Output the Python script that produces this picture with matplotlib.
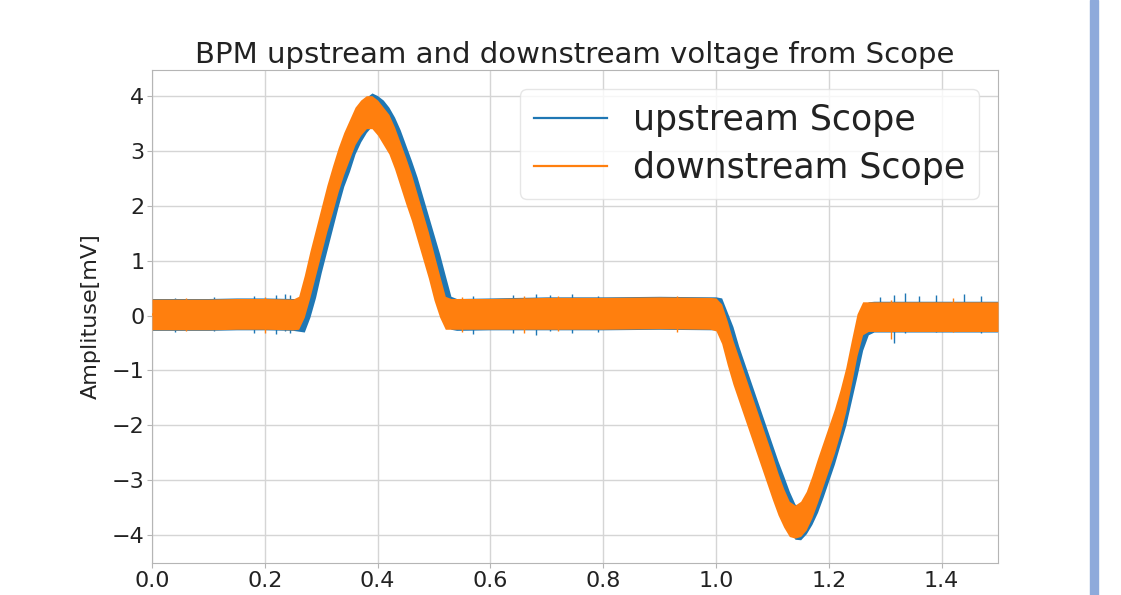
import numpy as np
import matplotlib
matplotlib.use('Agg')
import matplotlib.pyplot as plt
from matplotlib.patches import Rectangle

# values: center of the noisy band and its half height
down_x = [0.0, 0.05, 0.10, 0.15, 0.20, 0.25, 0.26, 0.27, 0.28, 0.29, 0.30, 0.31, 0.32, 0.33,
          0.34, 0.35, 0.36, 0.37, 0.38, 0.39, 0.40, 0.41, 0.42, 0.43, 0.44, 0.45, 0.46,
          0.47, 0.48, 0.49, 0.50, 0.51, 0.52, 0.53, 0.60, 0.70, 0.80, 0.90, 0.99, 1.00,
          1.01, 1.02, 1.03, 1.04, 1.05, 1.06, 1.07, 1.08, 1.09, 1.10, 1.11, 1.12, 1.13,
          1.14, 1.15, 1.16, 1.17, 1.18, 1.19, 1.20, 1.21, 1.22, 1.23, 1.24, 1.25, 1.26,
          1.27, 1.30, 1.35, 1.40, 1.45, 1.50]
down_y = [0.02, 0.02, 0.02, 0.03, 0.03, 0.02, 0.05, 0.35, 0.75, 1.15, 1.55, 1.95, 2.3, 2.65,
          2.95, 3.2, 3.45, 3.6, 3.7, 3.7, 3.6, 3.45, 3.3, 3.05, 2.75, 2.45, 2.15,
          1.8, 1.45, 1.1, 0.7, 0.35, 0.05, 0.03, 0.03, 0.04, 0.04, 0.05, 0.04, 0.02,
          -0.15, -0.5, -0.85, -1.15, -1.45, -1.75, -2.05, -2.35, -2.65, -2.95, -3.25, -3.5, -3.7,
          -3.75, -3.7, -3.55, -3.3, -3.0, -2.7, -2.4, -2.1, -1.75, -1.35, -0.85, -0.35, -0.05,
          -0.02, -0.02, -0.02, -0.02, -0.02, -0.02]
down_h = [0.28, 0.28, 0.28, 0.28, 0.28, 0.28, 0.3, 0.38, 0.42, 0.42, 0.42, 0.42, 0.42, 0.4,
          0.38, 0.36, 0.34, 0.32, 0.3, 0.3, 0.32, 0.34, 0.36, 0.38, 0.4, 0.42, 0.42,
          0.42, 0.42, 0.42, 0.42, 0.38, 0.3, 0.28, 0.28, 0.29, 0.29, 0.29, 0.29, 0.3,
          0.36, 0.4, 0.4, 0.4, 0.4, 0.4, 0.4, 0.4, 0.4, 0.4, 0.38, 0.35, 0.32,
          0.3, 0.32, 0.35, 0.38, 0.4, 0.4, 0.4, 0.4, 0.4, 0.4, 0.4, 0.38, 0.3,
          0.27, 0.27, 0.27, 0.27, 0.27, 0.27]

up_x = [0.0, 0.05, 0.10, 0.15, 0.20, 0.25, 0.27, 0.28, 0.29, 0.30, 0.31, 0.32, 0.33, 0.34,
        0.35, 0.36, 0.37, 0.38, 0.39, 0.40, 0.41, 0.42, 0.43, 0.44, 0.45, 0.46, 0.47,
        0.48, 0.49, 0.50, 0.51, 0.52, 0.53, 0.54, 0.60, 0.70, 0.80, 0.90, 1.00, 1.01,
        1.02, 1.03, 1.04, 1.05, 1.06, 1.07, 1.08, 1.09, 1.10, 1.11, 1.12, 1.13, 1.14,
        1.15, 1.16, 1.17, 1.18, 1.19, 1.20, 1.21, 1.22, 1.23, 1.24, 1.25, 1.26, 1.27,
        1.28, 1.30, 1.35, 1.40, 1.45, 1.50]
up_y = [0.02, 0.02, 0.02, 0.03, 0.03, 0.02, 0.0, 0.35, 0.75, 1.2, 1.6, 2.0, 2.4, 2.75,
        3.0, 3.3, 3.5, 3.65, 3.75, 3.7, 3.6, 3.45, 3.25, 3.0, 2.7, 2.4, 2.1,
        1.75, 1.4, 1.05, 0.7, 0.35, 0.05, 0.02, 0.03, 0.04, 0.04, 0.05, 0.04, 0.02,
        -0.3, -0.6, -0.95, -1.25, -1.55, -1.85, -2.15, -2.45, -2.75, -3.05, -3.3, -3.55, -3.75,
        -3.78, -3.65, -3.45, -3.2, -2.9, -2.6, -2.3, -1.95, -1.6, -1.15, -0.7, -0.25, -0.05,
        -0.02, -0.02, -0.02, -0.02, -0.02, -0.02]
up_h = [0.29, 0.29, 0.29, 0.29, 0.29, 0.29, 0.3, 0.38, 0.42, 0.42, 0.42, 0.42, 0.42, 0.4,
        0.38, 0.36, 0.34, 0.32, 0.3, 0.3, 0.32, 0.34, 0.36, 0.38, 0.4, 0.42, 0.42,
        0.42, 0.42, 0.42, 0.42, 0.38, 0.3, 0.29, 0.29, 0.3, 0.3, 0.3, 0.3, 0.3,
        0.36, 0.4, 0.4, 0.4, 0.4, 0.4, 0.4, 0.4, 0.4, 0.4, 0.38, 0.35, 0.32,
        0.3, 0.32, 0.35, 0.38, 0.4, 0.4, 0.4, 0.4, 0.4, 0.4, 0.4, 0.38, 0.3,
        0.28, 0.28, 0.28, 0.28, 0.28, 0.28]

# single noise spikes that stick out of the band
up_spike_x = [0.04, 0.11, 0.18, 0.22, 0.235, 0.245, 0.57, 0.64, 0.68, 0.705, 0.745, 0.79,
              1.29, 1.315, 1.335, 1.36, 1.39, 1.44, 1.47]
up_spike_lo = [-0.30, -0.29, -0.31, -0.33, -0.29, -0.32, -0.33, -0.31, -0.35, -0.29, -0.32, -0.30,
               -0.29, -0.50, -0.31, -0.29, -0.30, -0.29, -0.31]
up_spike_hi = [0.32, 0.33, 0.35, 0.38, 0.40, 0.37, 0.35, 0.38, 0.40, 0.37, 0.39, 0.35,
               0.34, 0.38, 0.41, 0.36, 0.38, 0.39, 0.35]
down_spike_x = [0.06, 0.20, 0.55, 0.66, 0.72, 0.93, 1.31, 1.42]
down_spike_lo = [-0.29, -0.31, -0.30, -0.32, -0.29, -0.30, -0.42, -0.30]
down_spike_hi = [0.31, 0.33, 0.34, 0.35, 0.36, 0.35, 0.28, 0.31]

down_x = np.array(down_x)
down_y = np.array(down_y)
down_h = np.array(down_h)
up_x = np.array(up_x)
up_y = np.array(up_y)
up_h = np.array(up_h)

blue = '#1f77b4'
orange = '#ff7f0e'

fig = plt.figure(figsize=(11.21, 5.95), dpi=100)
ax = fig.add_axes([0.1356, 0.054, 0.7547, 0.8286])

ax.fill_between(up_x, up_y - up_h, up_y + up_h, color=blue, lw=0, zorder=2)
ax.vlines(up_spike_x, up_spike_lo, up_spike_hi, color=blue, lw=1.0, zorder=2)
ax.plot(up_x, up_y, color=blue, lw=1.6, label='upstream Scope', zorder=2)
ax.fill_between(down_x, down_y - down_h, down_y + down_h, color=orange, lw=0, zorder=3)
ax.vlines(down_spike_x, down_spike_lo, down_spike_hi, color=orange, lw=1.0, zorder=3)
ax.plot(down_x, down_y, color=orange, lw=1.6, label='downstream Scope', zorder=3)

ax.set_xlim(0, 1.5)
ax.set_ylim(-4.5, 4.47)
ax.set_xticks([0.0, 0.2, 0.4, 0.6, 0.8, 1.0, 1.2, 1.4])
ax.set_yticks([-4, -3, -2, -1, 0, 1, 2, 3, 4])
ax.grid(True, color='#d5d5d5', lw=1)
ax.set_axisbelow(True)
for s in ax.spines.values():
    s.set_color('#b5b5b5')
ax.tick_params(labelsize=16, colors='#b5b5b5', labelcolor='#222222', length=3.5, pad=2)

ax.set_title('BPM upstream and downstream voltage from Scope', fontsize=21, color='#222222', pad=5)
ax.set_ylabel('Amplituse[mV]', fontsize=16, color='#222222', labelpad=8)
leg = ax.legend(loc='upper right', fontsize=25, handlelength=2.1, handletextpad=0.75,
                labelspacing=0.42, framealpha=0.8, edgecolor='#e0e0e0', borderpad=0.4,
                borderaxespad=0.55)
for t in leg.get_texts():
    t.set_color('#222222')

# blue page bar on the right edge of the screenshot
fig.patches.append(Rectangle((1090 / 1121, 0), 8 / 1121, 1, transform=fig.transFigure,
                             color='#8eaadb', zorder=0))

fig.savefig('out.png', dpi=100)
